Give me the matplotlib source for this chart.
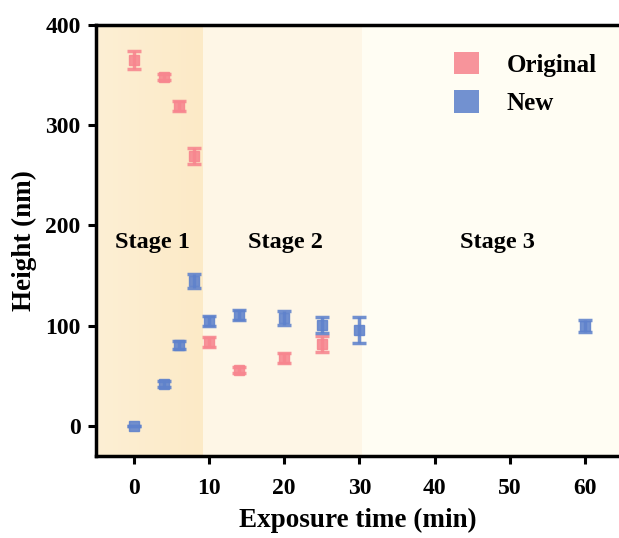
import matplotlib
matplotlib.use("Agg")
import matplotlib.pyplot as plt
import numpy as np
from matplotlib.patches import Patch
from matplotlib.colors import LinearSegmentedColormap

# Data
orig_x = [0, 4, 6, 8, 10, 14, 20, 25]
orig_y = [365, 348, 319, 269, 84, 56, 68, 82]
orig_err = [9, 3, 5, 8, 5, 3, 5, 8]

new_x = [0, 4, 6, 8, 10, 14, 20, 25, 30, 60]
new_y = [0, 42, 81, 145, 105, 111, 108, 101, 96, 100]
new_err = [0, 3, 4, 7, 5, 5, 7, 8, 13, 6]

stage_labels = ["Stage 1", "Stage 2", "Stage 3"]
stage_bounds = [-5, 9.2, 30.4, 64.5]
stage_text_x = [2.5, 20.2, 48.3]

plt.rcParams['font.family'] = ['Liberation Serif', 'DejaVu Serif']
plt.rcParams['font.weight'] = 'bold'

fig = plt.figure(figsize=(6.19, 5.38), dpi=100)
ax = fig.add_axes([0.155, 0.1524, 0.845, 0.8011])

ylo, yhi = -30, 400
ax.set_xlim(stage_bounds[0], stage_bounds[-1])
ax.set_ylim(ylo, yhi)

# Backgrounds
grad = np.linspace(0, 1, 400).reshape(1, -1)
cmap1 = LinearSegmentedColormap.from_list("s1", ["#FDEFD4", "#FCEAC7"])
ax.imshow(grad, extent=[stage_bounds[0], stage_bounds[1], ylo, yhi], aspect='auto',
          cmap=cmap1, interpolation='bilinear', zorder=0)
ax.axvspan(stage_bounds[1], stage_bounds[2], color="#FEF6E6", lw=0, zorder=0)
ax.axvspan(stage_bounds[2], stage_bounds[3], color="#FFFDF3", lw=0, zorder=0)

pink = "#F7868F"
blue = "#5F82CC"
ax.errorbar(orig_x, orig_y, yerr=orig_err, fmt='s', color=pink, ms=7.5, alpha=0.88,
            ecolor=pink, elinewidth=2.5, capsize=5, capthick=2.5, zorder=3)
ax.errorbar(new_x, new_y, yerr=new_err, fmt='s', color=blue, ms=7.5, alpha=0.88,
            ecolor=blue, elinewidth=2.5, capsize=5, capthick=2.5, zorder=3)

for lab, tx in zip(stage_labels, stage_text_x):
    ax.text(tx, 183, lab, ha='center', va='center', fontsize=17.5, fontweight='bold')

ax.set_xticks([0, 10, 20, 30, 40, 50, 60])
ax.set_yticks([0, 100, 200, 300, 400])
ax.tick_params(axis='both', direction='out', length=6, width=2.2, labelsize=17)
ax.tick_params(axis='x', pad=10)
ax.tick_params(axis='y', pad=5)
for lbl in ax.get_xticklabels() + ax.get_yticklabels():
    lbl.set_fontweight('bold')
ax.spines['right'].set_visible(False)
for s in ['left', 'top', 'bottom']:
    ax.spines[s].set_linewidth(2.5)

ax.set_xlabel("Exposure time (min)", fontsize=19.5, fontweight='bold', labelpad=6)
ax.set_ylabel("Height (nm)", fontsize=19.5, fontweight='bold', labelpad=6)

handles = [Patch(facecolor=pink, alpha=0.88, label="Original"),
           Patch(facecolor=blue, alpha=0.88, label="New")]
leg = ax.legend(handles=handles, loc='upper right', frameon=False, fontsize=18,
                handlelength=1.0, handleheight=1.0, handletextpad=1.1,
                labelspacing=0.55, bbox_to_anchor=(1.0, 0.99))
for t in leg.get_texts():
    t.set_fontweight('bold')

fig.savefig("out.png", dpi=100)
